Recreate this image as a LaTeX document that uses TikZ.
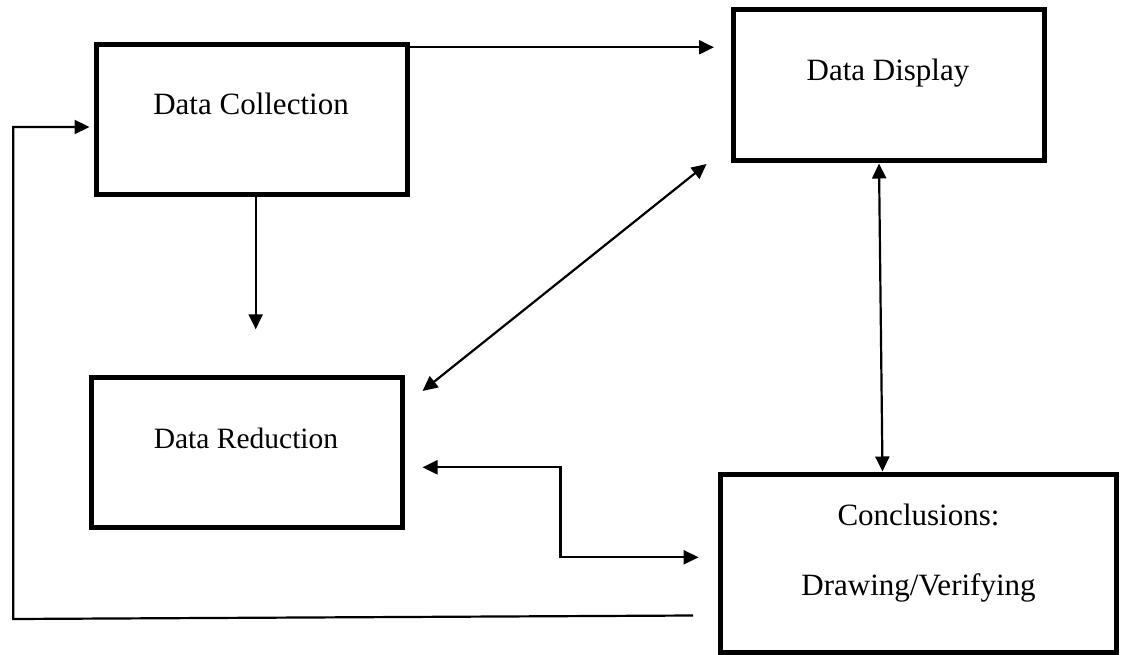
\documentclass[tikz,border=0pt]{standalone}
\usepackage{fontspec}
\setmainfont{Liberation Serif}
\usetikzlibrary{arrows.meta}
\tikzset{
  box/.style={draw=black, line width=5pt, inner sep=0pt, fill=none},
  lbl/.style={anchor=base, inner sep=0pt, font=\fontsize{31}{37}\selectfont},
  arr/.style={line width=2.2pt, -{Triangle[length=15pt,width=14pt]}},
  arrtwo/.style={line width=2.2pt, {Triangle[length=15pt,width=14pt]}-{Triangle[length=15pt,width=14pt]}},
  plain/.style={line width=2.2pt}
}
\begin{document}
\begin{tikzpicture}[x=1pt, y={(0pt,-1pt)}]
\useasboundingbox (0,0) rectangle (1121,655);
% boxes
\node[box, minimum width=310.5pt, minimum height=150.5pt] (dc) at (251.75,119.75) {};
\node[box, minimum width=311pt, minimum height=151pt] (dd) at (888.5,85.5) {};
\node[box, minimum width=311pt, minimum height=150.5pt] (dr) at (246.5,452.25) {};
\node[box, minimum width=396pt, minimum height=178pt] (co) at (918.5,563) {};
% texts
\node[lbl] (dcT) at (251,115) {Data Collection};
\node[lbl] (ddT) at (888,81) {Data Display};
\node[lbl, font=\fontsize{29.5}{35}\selectfont] (drT) at (246,448.3) {Data Reduction};
\node[lbl] (coT1) at (918.5,525) {Conclusions:};
\node[lbl] (coT2) at (918.5,595) {Drawing/Verifying};
% coordinates for free ends
\coordinate (a1) at (714,47.3);
\coordinate (a2) at (255.7,329.3);
\coordinate (d1) at (422.5,391);
\coordinate (d2) at (706.6,164);
\coordinate (v1) at (879,163);
\coordinate (v2) at (882.5,471);
\coordinate (e1) at (422.5,467.3);
\coordinate (ec) at (560.4,512);
\coordinate (e2) at (698.6,557.3);
\coordinate (l1) at (693,615.5);
\coordinate (lc1) at (13.3,619);
\coordinate (lc2) at (13.3,127);
\coordinate (l2) at (89.5,127);
% connectors
\draw[arr] (dc.east |- a1) -- (a1);
\draw[arr] (dc.south -| a2) -- (a2);
\draw[arrtwo] (d1) -- (d2);
\draw[arrtwo] (dd.south -| v1) -- (co.north -| v2);
\draw[arrtwo] (e1) -| (ec) |- (e2);
\draw[arr] (l1) -- (lc1) -- (lc2) -- (l2);
\end{tikzpicture}
\end{document}
